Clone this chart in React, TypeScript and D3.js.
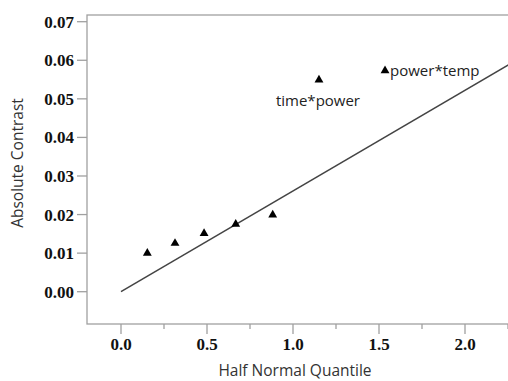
import React from "react";
import * as d3 from "d3";

const effects = ["e1", "e2", "e3", "e4", "e5", "time*power", "power*temp"];
const quantiles = [0.153, 0.314, 0.483, 0.667, 0.882, 1.151, 1.535];
const contrasts = [0.0100, 0.01255, 0.0151, 0.0175, 0.0199, 0.0549, 0.0573];
const labelled = ["time*power", "power*temp"];
const xTicks = [0, 0.5, 1.0, 1.5, 2.0];
const xMinorTicks = [0.25, 0.75, 1.25, 1.75, 2.25];
const yTicks = [0, 0.01, 0.02, 0.03, 0.04, 0.05, 0.06, 0.07];
const lineSlope = 0.02612;

export default function App() {
  const W = 508, H = 381;
  const left = 87, top = 15, right = 520, bottom = 324;
  const x = d3.scaleLinear().domain([0, 2.0]).range([121, 465]);
  const y = d3.scaleLinear().domain([0, 0.07]).range([291.7, 21.7]);
  const xMax = x.invert(right);
  const line = d3.line<[number, number]>().x(d => x(d[0])).y(d => y(d[1]));
  const tri = d3.symbol().type(d3.symbolTriangle).size(34)();
  const tickFont = "'Liberation Serif', 'Times New Roman', serif";
  const sans = "'Open Sans', 'Noto Sans', sans-serif";
  return (
    <svg width={W} height={H} style={{ position: "absolute", left: 0, top: 0, background: "#fff" }}>
      <defs>
        <clipPath id="plot"><rect x={left} y={top} width={right - left} height={bottom - top} /></clipPath>
      </defs>
      <rect x={left} y={top} width={right - left} height={bottom - top} fill="#fff" stroke="#a0a0a0" strokeWidth={1.3} />
      {yTicks.map(t => (
        <g key={"y" + t}>
          <line x1={left - 10} x2={left} y1={y(t)} y2={y(t)} stroke="#a0a0a0" strokeWidth={1.3} />
          <text x={left - 13} y={y(t)} dy="0.35em" textAnchor="end" fontFamily={tickFont} fontWeight="bold" fontSize={17} fill="#111">{t.toFixed(2)}</text>
        </g>
      ))}
      {xTicks.map(t => (
        <g key={"x" + t}>
          <line x1={x(t)} x2={x(t)} y1={bottom} y2={bottom + 10} stroke="#a0a0a0" strokeWidth={1.3} />
          <text x={x(t)} y={bottom + 26} textAnchor="middle" fontFamily={tickFont} fontWeight="bold" fontSize={17} fill="#111">{t.toFixed(1)}</text>
        </g>
      ))}
      {xMinorTicks.map(t => (
        <line key={"m" + t} x1={x(t)} x2={x(t)} y1={bottom} y2={bottom + 5} stroke="#a0a0a0" strokeWidth={1.3} />
      ))}
      <g clipPath="url(#plot)">
        <path d={line([[0, 0], [xMax, lineSlope * xMax]]) || ""} stroke="#444" strokeWidth={1.5} fill="none" />
        {quantiles.map((q, i) => (
          <path key={"p" + i} d={tri || ""} transform={`translate(${x(q)},${y(contrasts[i])})`} fill="#000" />
        ))}
      </g>
      {effects.map((e, i) => {
        if (!labelled.includes(e)) return null;
        if (e === "time*power")
          return <text key={e} x={x(quantiles[i]) - 1} y={y(contrasts[i]) + 26} textAnchor="middle" fontFamily={sans} fontSize={15} fill="#222">{e}</text>;
        return <text key={e} x={x(quantiles[i]) + 5} y={y(contrasts[i]) + 5} textAnchor="start" fontFamily={sans} fontSize={15} fill="#222">{e}</text>;
      })}
      <text x={295} y={376} textAnchor="middle" fontFamily={sans} fontSize={15.5} fill="#333">Half Normal Quantile</text>
      <text transform={`translate(23,${163}) rotate(-90)`} textAnchor="middle" fontFamily={sans} fontSize={15.5} fill="#333">Absolute Contrast</text>
    </svg>
  );
}
